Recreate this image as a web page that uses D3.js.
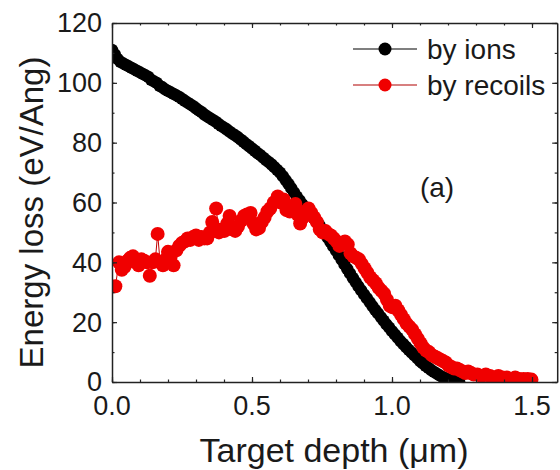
<!DOCTYPE html>
<html>
<head>
<meta charset="utf-8">
<script src="https://cdn.jsdelivr.net/npm/d3@7"></script>
<style>
  body { margin: 0; background: #fff; }
  svg text { font-family: Arial, "Liberation Sans", sans-serif; fill: #1a1a1a; }
</style>
</head>
<body>
<div class="chart"></div>
<script>
// energy loss by ions (black)
var ionDepth = [0.00,0.01,0.02,0.03,0.04,0.05,0.06,0.07,0.08,0.09,
  0.10,0.11,0.12,0.13,0.14,0.15,0.16,0.17,0.18,0.19,
  0.20,0.21,0.22,0.23,0.24,0.25,0.26,0.27,0.28,0.29,
  0.30,0.31,0.32,0.33,0.34,0.35,0.36,0.37,0.38,0.39,
  0.40,0.41,0.42,0.43,0.44,0.45,0.46,0.47,0.48,0.49,
  0.50,0.51,0.52,0.53,0.54,0.55,0.56,0.57,0.58,0.59,
  0.60,0.61,0.62,0.63,0.64,0.65,0.66,0.67,0.68,0.69,
  0.70,0.71,0.72,0.73,0.74,0.75,0.76,0.77,0.78,0.79,
  0.80,0.81,0.82,0.83,0.84,0.85,0.86,0.87,0.88,0.89,
  0.90,0.91,0.92,0.93,0.94,0.95,0.96,0.97,0.98,0.99,
  1.00,1.01,1.02,1.03,1.04,1.05,1.06,1.07,1.08,1.09,
  1.10,1.11,1.12,1.13,1.14,1.15,1.16,1.17,1.18,1.19,
  1.20,1.21,1.22,1.23,1.24];
var ionLoss = [111,109.5,108,107,106.5,106,105.5,105,104.5,104,
  103.5,103,102.5,102,101,100.5,100,99,98.5,97.8,
  97.3,96.8,96.3,95.8,95.3,94.6,94,93.4,92.8,92.2,
  91.5,90.8,90.2,89.4,88.8,88.2,87.6,87,86.3,85.6,
  85,84.4,83.7,83,82.4,81.8,81,80.3,79.5,78.8,
  78,77.3,76.5,75.8,75,74.2,73.5,72.7,71.8,70.9,
  70,68.8,67.5,66.2,64.8,63.4,62,60.7,59.4,58.1,
  56.9,55.8,54.8,53.7,52.5,51.2,49.8,48.3,46.8,45.3,
  43.9,42.4,40.9,39.3,37.8,36.3,34.8,33.4,32,30.6,
  29.3,28,26.7,25.4,24.1,22.9,21.7,20.5,19.3,18.2,
  17,15.9,14.8,13.7,12.7,11.7,10.7,9.8,8.9,8,
  7,6.2,5.4,4.7,4,3.4,2.8,2.2,1.7,1.3,
  0.9,0.6,0.4,0.2,0.1];

// energy loss by recoils (red)
var recoilDepth = [0.012,0.025,0.035,0.045,0.055,0.065,0.075,0.085,0.095,0.105,
  0.115,0.125,0.135,0.145,0.155,0.163,0.172,0.182,0.192,0.200,
  0.210,0.220,0.230,0.240,0.250,0.260,0.270,0.280,0.290,0.300,
  0.310,0.320,0.330,0.340,0.350,0.358,0.372,0.382,0.392,0.402,
  0.412,0.420,0.430,0.440,0.450,0.462,0.472,0.482,0.495,0.505,
  0.515,0.525,0.535,0.545,0.555,0.565,0.578,0.592,0.603,0.613,
  0.623,0.635,0.645,0.655,0.663,0.672,0.682,0.692,0.702,0.712,
  0.722,0.732,0.742,0.752,0.762,0.772,0.782,0.792,0.802,0.812,
  0.822,0.832,0.842,0.852,0.862,0.872,0.882,0.892,0.902,0.912,
  0.922,0.932,0.942,0.952,0.962,0.972,0.982,0.992,1.002,1.012,
  1.022,1.032,1.042,1.052,1.062,1.072,1.082,1.092,1.102,1.112,
  1.122,1.132,1.142,1.152,1.162,1.172,1.182,1.192,1.202,1.212,
  1.222,1.232,1.242,1.252,1.262,1.272,1.282,1.292,1.305,1.320,
  1.335,1.350,1.365,1.380,1.395,1.410,1.425,1.440,1.455,1.470,
  1.485,1.498];
var recoilLoss = [32,40,37.5,38.5,40.5,41.5,42,40,39,41,
  40.5,40,35.5,40,41,49.5,40,39,41,43.5,
  42,39,44,45.5,46.5,47,48,47.5,48.5,49,
  47.5,48.5,48,48,50,53.5,58,50,51,50.5,
  53,55.5,51,50.5,52,54,55.5,56,56.5,53,
  51,51.5,53.5,55,57,58,60,62,60,61,
  57.5,57,58.5,59.5,56,53,55,57,58,56.5,
  55,53.5,51,50,50.5,49.5,49,48,47,45.5,
  46.5,47,46,43,42,41.5,41,39.5,38,36.5,
  35,34,33,31.5,30.5,29.5,27.5,25.5,25,25.5,
  24,22.5,21,19.5,18.5,17.5,16,14.5,13,11.5,
  10.5,10,9,8.5,8,7.5,7,6.5,5.5,5,
  4.5,4.5,4,3.5,3,3.5,3,2.5,2.5,2,
  2.5,2,1.5,2,1.5,1.5,1,1.5,1,1,
  1,0.8];

var xTicks = [0.0, 0.5, 1.0, 1.5];
var yTicks = [0, 20, 40, 60, 80, 100, 120];
var seriesNames = ["by ions", "by recoils"];

var W = 560, H = 470;
var margin = { top: 23, right: 2.5, bottom: 88, left: 112 };

var x = d3.scaleLinear().domain([0, 1.59]).range([margin.left, margin.left + 1.59 * 280]);
var y = d3.scaleLinear().domain([0, 120]).range([H - margin.bottom, margin.top]);

var svg = d3.select(".chart").append("svg")
  .attr("width", W)
  .attr("height", H);

svg.append("clipPath").attr("id", "plot")
  .append("rect")
  .attr("x", x(0)).attr("y", y(120))
  .attr("width", x(1.59) - x(0)).attr("height", y(0) - y(120));

var plot = svg.append("g").attr("clip-path", "url(#plot)");

var ions = ionDepth.map(function(d, i) { return { x: d, y: ionLoss[i] }; });
var recoils = recoilDepth.map(function(d, i) { return { x: d, y: recoilLoss[i] }; });

var line = d3.line()
  .x(function(d) { return x(d.x); })
  .y(function(d) { return y(d.y); });

plot.append("path").datum(ions)
  .attr("d", line).attr("fill", "none").attr("stroke", "#000").attr("stroke-width", 1);
plot.selectAll(".ion").data(ions).enter().append("circle")
  .attr("cx", function(d) { return x(d.x); })
  .attr("cy", function(d) { return y(d.y); })
  .attr("r", 6.2).attr("fill", "#000");

plot.append("path").datum(recoils)
  .attr("d", line).attr("fill", "none").attr("stroke", "#c00000").attr("stroke-width", 1);
plot.selectAll(".rec").data(recoils).enter().append("circle")
  .attr("cx", function(d) { return x(d.x); })
  .attr("cy", function(d) { return y(d.y); })
  .attr("r", 7).attr("fill", "#f00000");

// frame with ticks on all four sides, pointing inward
var minorX = d3.range(0, 1.59, 0.1), minorY = d3.range(0, 121, 10);
function axes(g, scale, orient, pos, major, minor) {
  var ax = orient(scale).tickValues(major).tickSizeInner(-5).tickSizeOuter(0);
  var a = g.append("g").attr("transform", pos).call(ax);
  a.selectAll("text").remove();
  var m = orient(scale).tickValues(minor).tickSizeInner(-2.5).tickSizeOuter(0).tickFormat("");
  g.append("g").attr("transform", pos).call(m).select(".domain").remove();
  return a;
}
var frame = svg.append("g");
axes(frame, x, d3.axisBottom, "translate(0," + y(0) + ")", xTicks, minorX);
axes(frame, x, d3.axisTop, "translate(0," + y(120) + ")", xTicks, minorX);
axes(frame, y, d3.axisLeft, "translate(" + x(0) + ",0)", yTicks, minorY);
axes(frame, y, d3.axisRight, "translate(" + x(1.59) + ",0)", yTicks, minorY);
frame.selectAll(".domain").attr("stroke", "#222").attr("stroke-width", 1.5);
frame.selectAll(".tick line").attr("stroke", "#222").attr("stroke-width", 1.2);

svg.selectAll(".xl").data(xTicks).enter().append("text")
  .attr("x", function(d) { return x(d); })
  .attr("y", y(0) + 33)
  .attr("text-anchor", "middle")
  .style("font-size", "27px")
  .text(d3.format(".1f"));

svg.selectAll(".yl").data(yTicks).enter().append("text")
  .attr("x", x(0) - 10)
  .attr("y", function(d) { return y(d); })
  .attr("dy", "0.35em")
  .attr("text-anchor", "end")
  .style("font-size", "27px")
  .text(function(d) { return d; });

svg.append("text")
  .attr("x", 334)
  .attr("y", 462)
  .attr("text-anchor", "middle")
  .style("font-size", "34px")
  .text("Target depth (\u03bcm)");

svg.append("text")
  .attr("transform", "translate(43," + (y(60) + 10) + ") rotate(-90)")
  .attr("text-anchor", "middle")
  .style("font-size", "33px")
  .text("Energy loss (eV/Ang)");

svg.append("text")
  .attr("x", 437).attr("y", 197)
  .attr("text-anchor", "middle")
  .style("font-size", "28px")
  .text("(a)");

// legend
var legColors = [["#000", "#000"], ["#b00000", "#f00000"]];
var leg = svg.selectAll(".leg").data(seriesNames).enter().append("g")
  .attr("transform", function(d, i) { return "translate(353," + (49 + i * 36) + ")"; });
leg.append("line").attr("x1", 0).attr("x2", 64)
  .attr("stroke", function(d, i) { return legColors[i][0]; }).attr("stroke-width", 1.2);
leg.append("circle").attr("cx", 32).attr("r", 6.5)
  .attr("fill", function(d, i) { return legColors[i][1]; });
leg.append("text").attr("x", 74).attr("dy", "0.35em")
  .style("font-size", "28px")
  .text(function(d) { return d; });
</script>
</body>
</html>
